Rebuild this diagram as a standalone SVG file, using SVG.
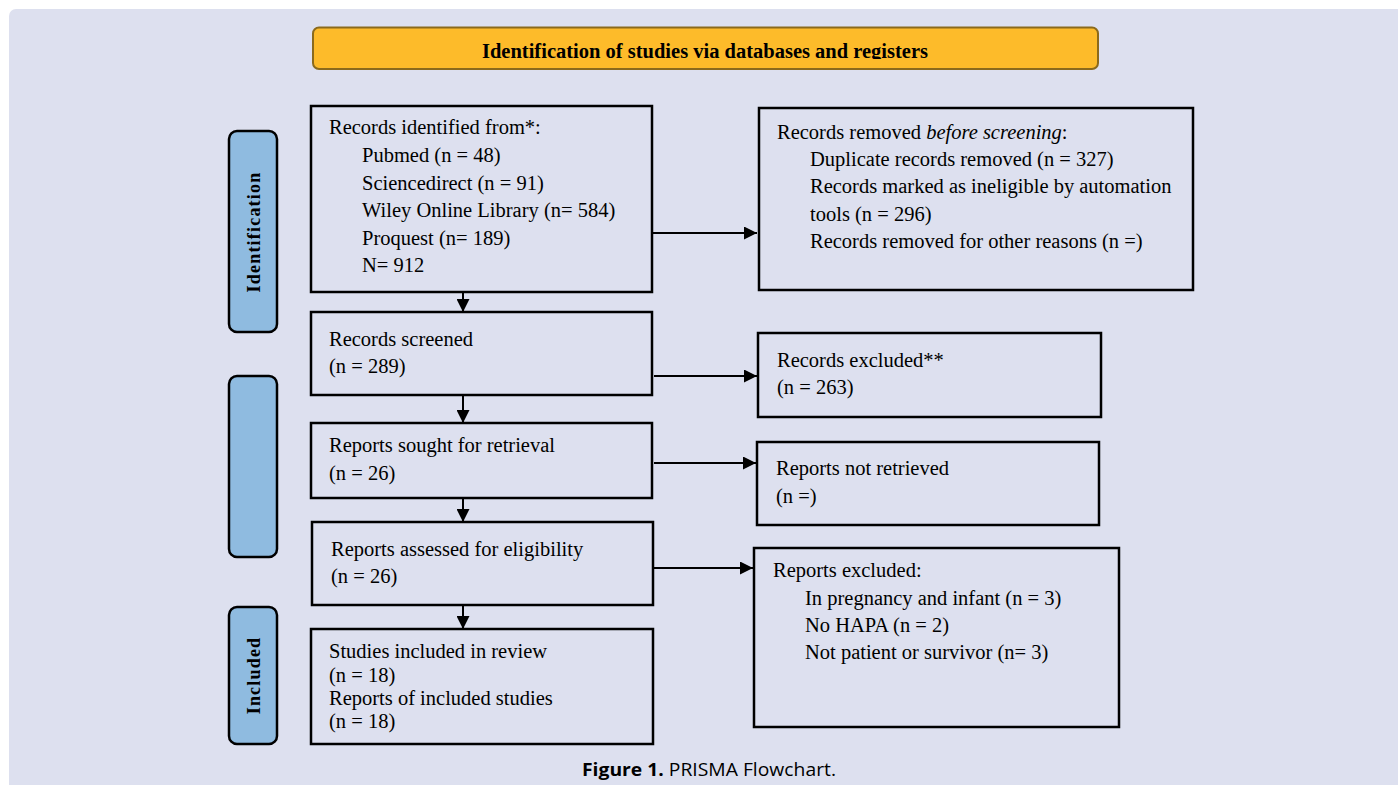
<svg xmlns="http://www.w3.org/2000/svg" width="1398" height="785" viewBox="0 0 1398 785">
<style>
.bg{fill:#DDE0EF}
.box{fill:none;stroke:#000;stroke-width:2.5}
.side{fill:#8FBBE0;stroke:#000;stroke-width:2.5}
.t{font-family:"Liberation Serif","Times New Roman",serif;font-size:20.5px;fill:#000}
.sl{font-family:"Liberation Serif","Times New Roman",serif;font-size:18px;font-weight:bold;letter-spacing:1.2px;fill:#000}
.ban{font-family:"Liberation Serif","Times New Roman",serif;font-size:20.5px;font-weight:bold;fill:#000}
.cap{font-family:"Open Sans","Noto Sans",sans-serif;font-size:18px;fill:#000}
.c{stroke:#000;stroke-width:2;fill:none;marker-end:url(#ah)}
</style>
<defs>
<marker id="ah" markerUnits="userSpaceOnUse" markerWidth="13" markerHeight="13" refX="13" refY="6.5" orient="auto">
<path d="M0,0 L13,6.5 L0,13 z" fill="#000"/>
</marker>
<clipPath id="banclip"><rect x="313" y="27" width="786" height="32"/></clipPath>
</defs>
<rect width="1398" height="785" fill="#fff"/>
<rect class="bg" x="9" y="9" width="1400" height="800" rx="7"/>

<g id="banner">
<rect x="313" y="27.5" width="785" height="41.5" rx="6" fill="#FDBB2A" stroke="#8B6A1C" stroke-width="2"/>
<text class="ban" x="705" y="58" text-anchor="middle" clip-path="url(#banclip)">Identification of studies via databases and registers</text>
</g>

<g id="side-identification">
<rect class="side" x="229" y="131" width="48" height="201" rx="8"/>
<text class="sl" transform="translate(259.5,232) rotate(-90)" text-anchor="middle">Identification</text>
</g>
<g id="side-screening">
<rect class="side" x="229" y="376" width="48" height="181" rx="8"/>
</g>
<g id="side-included">
<rect class="side" x="229" y="607" width="48" height="137" rx="8"/>
<text class="sl" transform="translate(259.5,675.5) rotate(-90)" text-anchor="middle">Included</text>
</g>

<g id="identified">
<rect class="box" x="311" y="106" width="341" height="186"/>
<text class="t" x="329" y="134">Records identified from*:</text>
<text class="t" x="362" y="162">Pubmed (n = 48)</text>
<text class="t" x="362" y="190">Sciencedirect (n = 91)</text>
<text class="t" x="362" y="217">Wiley Online Library (n= 584)</text>
<text class="t" x="362" y="245">Proquest (n= 189)</text>
<text class="t" x="362" y="272">N= 912</text>
</g>

<g id="removed">
<rect class="box" x="759" y="108" width="434" height="182"/>
<text class="t" x="777" y="139">Records removed <tspan font-style="italic">before screening</tspan>:</text>
<text class="t" x="810" y="166">Duplicate records removed (n = 327)</text>
<text class="t" x="810" y="193">Records marked as ineligible by automation</text>
<text class="t" x="810" y="221">tools (n = 296)</text>
<text class="t" x="810" y="248">Records removed for other reasons (n =)</text>
</g>

<g id="screened">
<rect class="box" x="311" y="312" width="341" height="83"/>
<text class="t" x="329" y="346">Records screened</text>
<text class="t" x="329" y="373">(n = 289)</text>
</g>

<g id="excluded">
<rect class="box" x="758" y="333" width="343" height="84"/>
<text class="t" x="777" y="367">Records excluded**</text>
<text class="t" x="777" y="394">(n = 263)</text>
</g>

<g id="sought">
<rect class="box" x="311" y="423" width="341" height="75"/>
<text class="t" x="329" y="452">Reports sought for retrieval</text>
<text class="t" x="329" y="480">(n = 26)</text>
</g>

<g id="notretrieved">
<rect class="box" x="757" y="442" width="342" height="83"/>
<text class="t" x="776" y="475">Reports not retrieved</text>
<text class="t" x="776" y="503">(n =)</text>
</g>

<g id="assessed">
<rect class="box" x="312" y="522" width="341" height="83"/>
<text class="t" x="331" y="556">Reports assessed for eligibility</text>
<text class="t" x="331" y="583">(n = 26)</text>
</g>

<g id="reportsexcluded">
<rect class="box" x="754" y="548" width="365" height="179"/>
<text class="t" x="773" y="577">Reports excluded:</text>
<text class="t" x="805" y="605">In pregnancy and infant (n = 3)</text>
<text class="t" x="805" y="632">No HAPA (n = 2)</text>
<text class="t" x="805" y="659">Not patient or survivor (n= 3)</text>
</g>

<g id="included">
<rect class="box" x="311" y="629" width="342" height="115"/>
<text class="t" x="329" y="658">Studies included in review</text>
<text class="t" x="329" y="682">(n = 18)</text>
<text class="t" x="329" y="705">Reports of included studies</text>
<text class="t" x="329" y="728">(n = 18)</text>
</g>

<g id="connectors">
<line class="c" x1="463" y1="292" x2="463" y2="312"/>
<line class="c" x1="463" y1="395" x2="463" y2="423"/>
<line class="c" x1="463" y1="498" x2="463" y2="522"/>
<line class="c" x1="463" y1="605" x2="463" y2="629"/>
<line class="c" x1="652" y1="233" x2="757" y2="233"/>
<line class="c" x1="654" y1="376" x2="757" y2="376"/>
<line class="c" x1="654" y1="463" x2="756" y2="463"/>
<line class="c" x1="653" y1="568" x2="753" y2="568"/>
</g>

<text class="cap" x="709" y="776" text-anchor="middle" textLength="254" lengthAdjust="spacingAndGlyphs"><tspan font-weight="bold">Figure 1.</tspan> PRISMA Flowchart.</text>
</svg>
